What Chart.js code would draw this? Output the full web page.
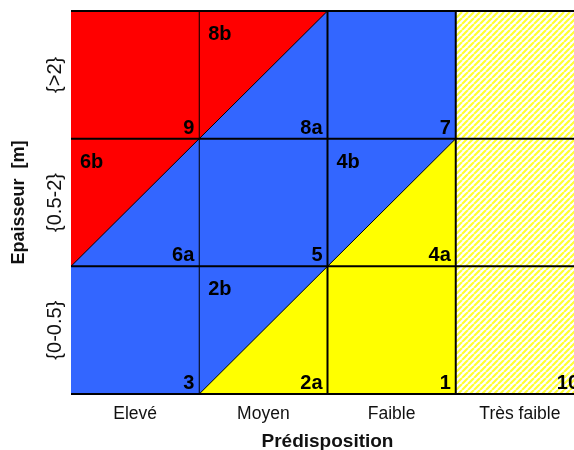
<!DOCTYPE html>
<html>
<head>
<meta charset="utf-8">
<script src="https://cdn.jsdelivr.net/npm/chart.js@4"></script>
<style>
  html, body { margin: 0; padding: 0; overflow: hidden; background: #fff; }
  canvas { display: block; }
</style>
</head>
<body>
<canvas id="myChart" width="600" height="450"></canvas>
<script>
// Categories (columns = prédisposition, rows = épaisseur, bottom to top)
const columns = ['Elevé', 'Moyen', 'Faible', 'Très faible'];
const rows = ['{0-0.5}', '{0.5-2}', '{>2}'];

// Zones in grid units [column, row]
const blueZone = [[0, 0], [3, 0], [3, 3], [0, 3]];
const redZone = [[0, 1], [0, 3], [2, 3]];
const yellowZone = [[1, 0], [3, 0], [3, 2]];
const hatchZone = [[3, 0], [4, 0], [4, 3], [3, 3]];
const diagonals = [[[0, 1], [2, 3]], [[1, 0], [3, 2]]];

// Class numbers: [column, row, text]
const cornerLabels = [
    [0, 2, '9'], [1, 2, '8a'], [2, 2, '7'],
    [0, 1, '6a'], [1, 1, '5'], [2, 1, '4a'],
    [0, 0, '3'], [1, 0, '2a'], [2, 0, '1'], [3, 0, '10']
];
const splitLabels = [[1, 2, '8b'], [0, 1, '6b'], [2, 1, '4b'], [1, 0, '2b']];

const FONT = '"Liberation Sans", Arial, sans-serif';

// hatch pattern for the "Très faible" column
function makeHatch() {
    const c = document.createElement('canvas');
    c.width = 6; c.height = 6;
    const g = c.getContext('2d');
    g.fillStyle = '#ffffff';
    g.fillRect(0, 0, 6, 6);
    g.strokeStyle = '#ffff33';
    g.lineWidth = 2.2;
    g.beginPath();
    for (let k = -6; k <= 12; k += 6) {
        g.moveTo(k, 6);
        g.lineTo(k + 6, 0);
    }
    g.stroke();
    return g.createPattern(c, 'repeat');
}

const toPts = arr => arr.map(p => ({ x: p[0], y: p[1] }));

// order: higher values are drawn first (underneath)
function zone(pts, color, order) {
    return {
        data: toPts(pts),
        backgroundColor: color,
        borderWidth: 0,
        pointRadius: 0,
        fill: 'shape',
        tension: 0,
        order: order
    };
}

const datasets = [
    zone(blueZone, '#3366ff', 10),
    zone(hatchZone, makeHatch(), 9),
    zone(redZone, '#ff0000', 8),
    zone(yellowZone, '#ffff00', 7)
];
diagonals.forEach(d => {
    datasets.push({
        data: toPts(d),
        borderColor: '#000',
        borderWidth: 1,
        pointRadius: 0,
        fill: false,
        order: 1
    });
});

// grid lines, y tick labels and class numbers
const gridPlugin = {
    id: 'gridPlugin',
    afterDatasetsDraw(chart) {
        const { ctx, chartArea, scales: { x, y } } = chart;
        ctx.save();
        ctx.beginPath();
        ctx.rect(chartArea.left, chartArea.top - 2, chartArea.right - chartArea.left, chartArea.bottom - chartArea.top + 4);
        ctx.clip();
        ctx.strokeStyle = '#000';
        // vertical lines
        for (let i = 1; i <= columns.length; i++) {
            const px = x.getPixelForValue(i);
            ctx.lineWidth = i === 1 ? 1 : 2;
            ctx.beginPath();
            ctx.moveTo(px, y.getPixelForValue(0));
            ctx.lineTo(px, y.getPixelForValue(rows.length));
            ctx.stroke();
        }
        // horizontal lines
        for (let j = 0; j <= rows.length; j++) {
            const py = y.getPixelForValue(j);
            ctx.lineWidth = 2;
            ctx.beginPath();
            ctx.moveTo(x.getPixelForValue(0), py);
            ctx.lineTo(x.getPixelForValue(columns.length), py);
            ctx.stroke();
        }
        ctx.restore();

        ctx.save();
        ctx.fillStyle = '#000';
        ctx.font = 'bold 20px ' + FONT;
        ctx.textBaseline = 'alphabetic';
        ctx.textAlign = 'right';
        cornerLabels.forEach(([c, r, t]) => {
            ctx.fillText(t, x.getPixelForValue(c + 1) - 5, y.getPixelForValue(r) - 5);
        });
        ctx.textAlign = 'left';
        splitLabels.forEach(([c, r, t]) => {
            ctx.fillText(t, x.getPixelForValue(c) + 9, y.getPixelForValue(r + 1) + 29);
        });
        ctx.restore();

        // y tick labels, rotated
        ctx.save();
        ctx.fillStyle = '#111';
        ctx.font = '20px ' + FONT;
        ctx.textAlign = 'center';
        ctx.textBaseline = 'middle';
        rows.forEach((label, j) => {
            ctx.save();
            ctx.translate(55, y.getPixelForValue(j + 0.5));
            ctx.rotate(-Math.PI / 2);
            ctx.fillText(label, 0, 0);
            ctx.restore();
        });
        ctx.restore();
    }
};

const ctx = document.getElementById('myChart').getContext('2d');

const myChart = new Chart(ctx, {
    type: 'line',
    data: { datasets: datasets },
    options: {
        responsive: false,
        animation: false,
        layout: { padding: { left: 0, right: 16, top: 11, bottom: 0 } },
        plugins: {
            legend: { display: false },
            tooltip: { enabled: false }
        },
        scales: {
            x: {
                type: 'linear',
                min: 0,
                max: columns.length,
                afterBuildTicks: s => { s.ticks = columns.map((c, i) => ({ value: i + 0.5 })); },
                afterFit: s => { s.height = 56; },
                ticks: {
                    autoSkip: false,
                    maxRotation: 0,
                    padding: 2,
                    color: '#111',
                    font: { family: FONT, size: 17.5 },
                    callback: (v) => columns[Math.floor(v)]
                },
                grid: { display: false },
                border: { display: false },
                title: {
                    display: true,
                    text: 'Prédisposition',
                    color: '#111',
                    font: { family: FONT, size: 19, weight: 'bold' },
                    padding: { top: 0, bottom: -3 }
                }
            },
            y: {
                type: 'linear',
                min: 0,
                max: rows.length,
                afterFit: s => { s.width = 71; },
                ticks: { display: false },
                grid: { display: false },
                border: { display: false },
                title: {
                    display: true,
                    text: 'Epaisseur  [m]',
                    color: '#111',
                    font: { family: FONT, size: 18, weight: 'bold' },
                    padding: { top: 8, bottom: 0 }
                }
            }
        }
    },
    plugins: [gridPlugin]
});
</script>
</body>
</html>
